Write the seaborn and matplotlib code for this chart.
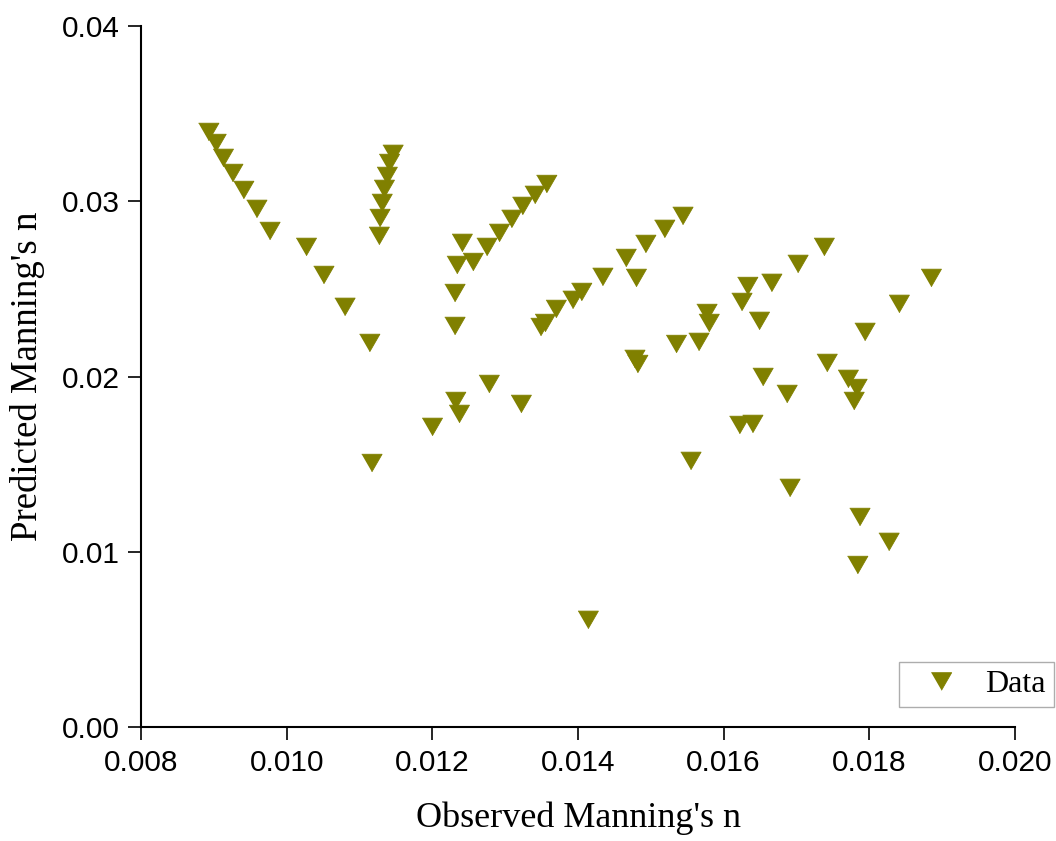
import matplotlib
matplotlib.use("Agg")
import matplotlib.pyplot as plt
import seaborn as sns
import pandas as pd

observed = [
    0.00893, 0.00903, 0.00913, 0.00926, 0.00941, 0.00959, 0.00977, 0.01027, 0.01051, 0.01080, 0.01114, 0.01117,
    0.01146, 0.01141, 0.01138, 0.01134, 0.01131, 0.01128, 0.01127,
    0.01357, 0.01341, 0.01324, 0.01309, 0.01292, 0.01275, 0.01241, 0.01256, 0.01234, 0.01231, 0.01231,
    0.01278, 0.01232, 0.01237, 0.01322, 0.01200,
    0.01544, 0.01519, 0.01493, 0.01466, 0.01480, 0.01434, 0.01405, 0.01393, 0.01370, 0.01355, 0.01349,
    0.01482, 0.01478, 0.01535, 0.01566, 0.01555, 0.01414,
    0.01577, 0.01580, 0.01625, 0.01633, 0.01649, 0.01666, 0.01702, 0.01738, 0.01654, 0.01687, 0.01742,
    0.01771, 0.01783, 0.01779, 0.01622, 0.01640, 0.01691, 0.01787, 0.01827, 0.01784, 0.01794, 0.01841, 0.01885,
]
predicted = [
    0.03395, 0.03332, 0.03247, 0.03161, 0.03064, 0.02956, 0.02830, 0.02739, 0.02579, 0.02397, 0.02191, 0.01506,
    0.03270, 0.03218, 0.03144, 0.03070, 0.02990, 0.02904, 0.02802,
    0.03098, 0.03036, 0.02973, 0.02899, 0.02819, 0.02739, 0.02762, 0.02653, 0.02636, 0.02476, 0.02288,
    0.01957, 0.01860, 0.01786, 0.01843, 0.01712,
    0.02916, 0.02842, 0.02756, 0.02676, 0.02562, 0.02568, 0.02482, 0.02437, 0.02385, 0.02305, 0.02282,
    0.02071, 0.02100, 0.02185, 0.02197, 0.01518, 0.00611,
    0.02362, 0.02305, 0.02425, 0.02516, 0.02317, 0.02534, 0.02642, 0.02739, 0.01997, 0.01900, 0.02077,
    0.01986, 0.01934, 0.01860, 0.01723, 0.01729, 0.01364, 0.01198, 0.01056, 0.00924, 0.02254, 0.02414, 0.02562,
]
x_ticks = [0.008, 0.010, 0.012, 0.014, 0.016, 0.018, 0.020]
y_ticks = [0.00, 0.01, 0.02, 0.03, 0.04]
x_label = "Observed Manning's n"
y_label = "Predicted Manning's n"
legend_label = "Data"

df = pd.DataFrame({"obs": observed, "pred": predicted, "series": legend_label})

sns.set_style("white")
plt.rcParams["font.family"] = ["Liberation Sans", "DejaVu Sans"]
plt.rcParams["text.color"] = "black"
plt.rcParams["axes.labelcolor"] = "black"
plt.rcParams["xtick.color"] = "black"
plt.rcParams["ytick.color"] = "black"

fig = plt.figure(figsize=(10.56, 8.41), dpi=100)
ax = fig.add_axes([141 / 1056, 1 - 727 / 841, (1015 - 141) / 1056, (727 - 26) / 841])

tri = [(-1, 0.866), (1, 0.866), (0, -0.866)]
sns.scatterplot(data=df, x="obs", y="pred", hue="series", palette=["#808000"],
                marker=tri, s=215, linewidth=0.6, edgecolor="#808000", ax=ax, legend=True)

ax.set_xlim(0.008, 0.020)
ax.set_ylim(0.0, 0.04)
ax.set_xticks(x_ticks)
ax.set_xticklabels([f"{v:.3f}" for v in x_ticks])
ax.set_yticks(y_ticks)
ax.set_yticklabels([f"{v:.2f}" for v in y_ticks])

for side in ["top", "right"]:
    ax.spines[side].set_visible(False)
for side in ["left", "bottom"]:
    ax.spines[side].set_linewidth(1.5)
    ax.spines[side].set_color("black")

ax.tick_params(axis="both", direction="out", length=9.5, width=1.2, color="black",
               labelsize=21.5, pad=6, left=True, bottom=True, labelcolor="black")

serif = ["Liberation Serif", "DejaVu Serif"]
ax.set_xlabel(x_label, fontsize=26, family=serif, labelpad=18, color="black")
ax.set_ylabel(y_label, fontsize=26.5, family=serif, labelpad=12, color="black")

handles, labels = ax.get_legend_handles_labels()
leg = ax.legend(handles, labels, loc="upper left", bbox_to_anchor=(899 / 1056, 1 - 662 / 841),
                bbox_transform=fig.transFigure, frameon=True, fancybox=False, borderaxespad=0,
                prop={"family": serif, "size": 23},
                handletextpad=0.3, handlelength=2.15, borderpad=0.25, markerscale=1.0)
leg.get_frame().set_edgecolor("#999999")
leg.get_frame().set_linewidth(1.0)
for t in leg.get_texts():
    t.set_color("black")

fig.savefig("out.png", dpi=100, facecolor="white")
